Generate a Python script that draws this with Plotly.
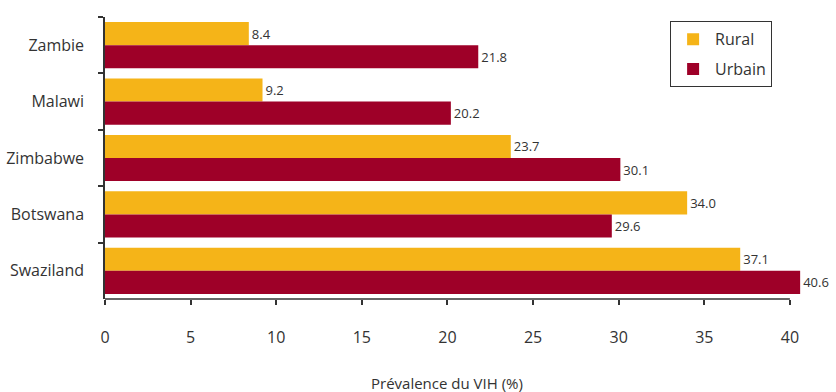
import plotly.graph_objects as go

countries = ["Zambie", "Malawi", "Zimbabwe", "Botswana", "Swaziland"]
rural = [8.4, 9.2, 23.7, 34.0, 37.1]
urbain = [21.8, 20.2, 30.1, 29.6, 40.6]
x_ticks = [0, 5, 10, 15, 20, 25, 30, 35, 40]

ORANGE = "#F5B418"
RED = "#9E0028"
INK = "#333333"
FONT = "Open Sans"

fig = go.Figure()
fig.add_trace(go.Bar(
    y=countries, x=rural, name="Rural", orientation="h",
    marker=dict(color=ORANGE, line=dict(width=0)),
    texttemplate="%{x:.1f}", textposition="outside", cliponaxis=False,
    textfont=dict(family=FONT, size=13, color=INK),
    legendgroup="r",
))
fig.add_trace(go.Bar(
    y=countries, x=urbain, name="Urbain", orientation="h",
    marker=dict(color=RED, line=dict(width=0)),
    texttemplate="%{x:.1f}", textposition="outside", cliponaxis=False,
    textfont=dict(family=FONT, size=13, color=INK),
    legendgroup="u",
))

# bottom axis line spanning 0..40 only
fig.add_shape(type="line", xref="x", yref="paper", x0=0, x1=40, y0=0, y1=0,
              line=dict(color=INK, width=1.5))

fig.add_annotation(text="Prévalence du VIH (%)", xref="x", yref="paper",
                   x=20, y=0, yshift=-84, yanchor="middle", showarrow=False,
                   font=dict(family=FONT, size=15, color=INK))

fig.update_layout(
    width=836, height=392,
    margin=dict(l=105, r=29, t=17, b=93),
    paper_bgcolor="white", plot_bgcolor="white",
    barmode="group", bargap=0.18, bargroupgap=0,
    showlegend=True,
    legend=dict(x=0.805, y=0.985, xanchor="left", yanchor="top",
                bordercolor=INK, borderwidth=1,
                font=dict(family=FONT, size=16, color=INK),
                traceorder="grouped", tracegroupgap=6,
                itemwidth=34),
    xaxis=dict(range=[0, 41], tickvals=x_ticks, ticktext=[str(v) for v in x_ticks],
               showgrid=False, zeroline=False, showline=False, automargin=False,
               ticks="outside", ticklen=5, tickwidth=1.5, tickcolor=INK,
               ticklabelstandoff=19,
               tickfont=dict(family=FONT, size=16, color=INK)),
    yaxis=dict(autorange="reversed", showgrid=False, zeroline=False,
               showline=True, linecolor=INK, linewidth=1.5, automargin=False,
               ticks="outside", tickson="boundaries", ticklen=5, tickwidth=1.5,
               tickcolor=INK, ticklabelstandoff=16,
               tickfont=dict(family=FONT, size=16, color=INK)),
)

fig.write_html("out.html")
